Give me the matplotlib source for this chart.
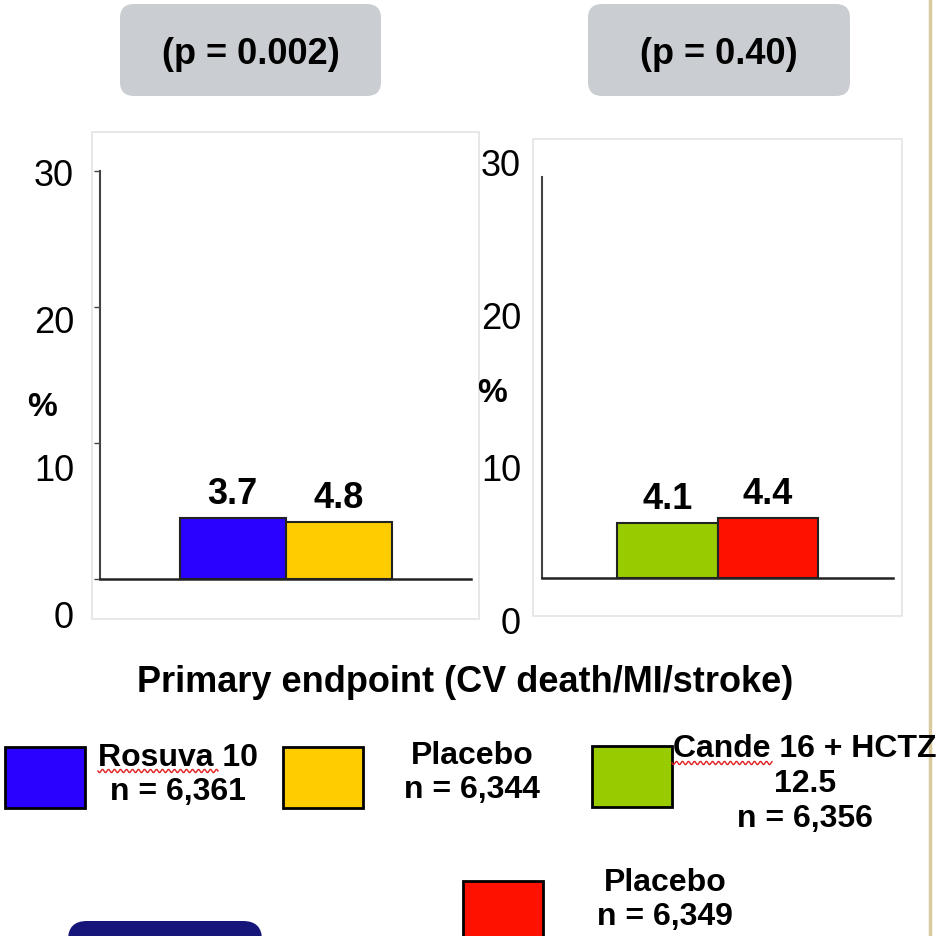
import numpy as np
import matplotlib
matplotlib.use('Agg')
from matplotlib import pyplot as plt
from matplotlib.patches import Rectangle, FancyBboxPatch

plt.rcParams['font.family'] = ['Liberation Sans', 'DejaVu Sans']

# data
left_labels = ['Rosuva 10', 'Placebo']
left_heights = [4.5, 4.2]          # bar heights as drawn
left_values = ['3.7', '4.8']       # printed values
left_colors = ['#2a00ff', '#ffcc00']
left_p = '(p = 0.002)'

right_labels = ['Cande 16 + HCTZ 12.5', 'Placebo']
right_heights = [4.1, 4.5]
right_values = ['4.1', '4.4']
right_colors = ['#99cc00', '#ff1100']
right_p = '(p = 0.40)'

tick_values = [0, 10, 20, 30]
xlabel = 'Primary endpoint (CV death/MI/stroke)'

legend_texts = ['Rosuva 10\nn = 6,361', 'Placebo\nn = 6,344',
                'Cande 16 + HCTZ\n12.5\nn = 6,356', 'Placebo\nn = 6,349']
legend_colors = left_colors + right_colors

W, H = 943, 937
fig = plt.figure(figsize=(W / 100, H / 100), dpi=100)


def fx(x):
    return x / W


def fy(y):
    return 1 - y / H


def rect(x0, y0, x1, y1):
    # pixel box (top-left origin) -> figure fraction [l, b, w, h]
    return [fx(x0), fy(y1), (x1 - x0) / W, (y1 - y0) / H]


def chart(box, heights, values, colors, ticks_left):
    ax = fig.add_axes(box)
    ax.bar([1.25, 2.25], heights, width=1.0, color=colors,
           edgecolor='#222222', linewidth=1.5)
    ax.set_xlim(0, 3.5)
    ax.set_ylim(0, 30)
    for s in ['top', 'right']:
        ax.spines[s].set_visible(False)
    ax.spines['left'].set_color('#444444')
    ax.spines['bottom'].set_color('#222222')
    ax.spines['left'].set_linewidth(1.5)
    ax.spines['bottom'].set_linewidth(1.8)
    ax.set_xticks([])
    ax.set_yticks(tick_values if ticks_left else [])
    ax.tick_params(axis='y', length=4, width=1, color='#444444', labelleft=False)
    ax.patch.set_alpha(0)
    for x, h, v in zip([1.25, 2.25], heights, values):
        ax.annotate(v, (x, h), xytext=(0, 5), textcoords='offset points',
                    ha='center', va='bottom', fontsize=26, fontweight='bold')
    return ax


def tick_labels(box):
    ax = fig.add_axes(box)
    ax.set_ylim(0, 30)
    ax.set_yticks(tick_values)
    ax.set_yticklabels([str(t) for t in tick_values], fontsize=26)
    ax.tick_params(axis='y', length=0, pad=0)
    ax.set_xticks([])
    for s in ax.spines.values():
        s.set_visible(False)
    ax.patch.set_alpha(0)


# light frames of the two chart objects
for x0, y0, x1, y1 in [(92, 133, 479, 620), (533, 140, 902, 617)]:
    fig.patches.append(Rectangle((fx(x0), fy(y1)), (x1 - x0) / W, (y1 - y0) / H,
                                 transform=fig.transFigure, fill=False,
                                 edgecolor='#e4e4e4', linewidth=1.2))

chart(rect(100, 172, 471, 580), left_heights, left_values, left_colors, True)
chart(rect(542, 178, 893, 579), right_heights, right_values, right_colors, False)
tick_labels(rect(74, 172, 76, 615))
tick_labels(rect(521, 163, 523, 620))

fig.text(fx(42), fy(408), '%', fontsize=24, fontweight='bold', ha='center', va='center')
fig.text(fx(492), fy(394), '%', fontsize=24, fontweight='bold', ha='center', va='center')

# p-value boxes
for (x0, x1), txt in zip([(120, 381), (588, 850)], [left_p, right_p]):
    fig.patches.append(FancyBboxPatch((fx(x0), fy(97)), (x1 - x0) / W, 92 / H,
                                      boxstyle='round,pad=0,rounding_size=0.015',
                                      transform=fig.transFigure,
                                      facecolor='#cacdd1', edgecolor='none'))
    fig.text(fx((x0 + x1) / 2), fy(55), txt, fontsize=26, fontweight='bold',
             ha='center', va='center')

fig.text(fx(465), fy(683), xlabel, fontsize=26, fontweight='bold',
         ha='center', va='center')

# legend
sq = [(5, 748), (283, 748), (592, 747), (463, 882)]
txt_pos = [(178, 775), (472, 773), (805, 784), (665, 900)]
for (x0, y0), (tx, ty), c, t in zip(sq, txt_pos, legend_colors, legend_texts):
    fig.patches.append(Rectangle((fx(x0), fy(y0 + 61)), 80 / W, 61 / H,
                                 transform=fig.transFigure, facecolor=c,
                                 edgecolor='black', linewidth=2))
    fig.text(fx(tx), fy(ty), t, fontsize=23, fontweight='bold', ha='center',
             va='center', linespacing=1.2)

# spell-check squiggles
for x0, x1, y in [(98, 218, 772), (672, 772, 764)]:
    xs = np.linspace(x0, x1, 200)
    ys = y + 1.6 * np.sin((xs - x0) / 6.0 * 2 * np.pi)
    fig.add_artist(plt.Line2D(fx(xs), fy(ys), color='#e02020', linewidth=1,
                              transform=fig.transFigure))

# slide decoration
fig.add_artist(plt.Line2D([fx(930), fx(930)], [0, 1], color='#d8c99e',
                          linewidth=2.5, transform=fig.transFigure))
fig.patches.append(FancyBboxPatch((fx(68), fy(960)), 194 / W, 38 / H,
                                  boxstyle='round,pad=0,rounding_size=0.02',
                                  transform=fig.transFigure,
                                  facecolor='#16167a', edgecolor='none'))

fig.savefig('out.png', dpi=100)
